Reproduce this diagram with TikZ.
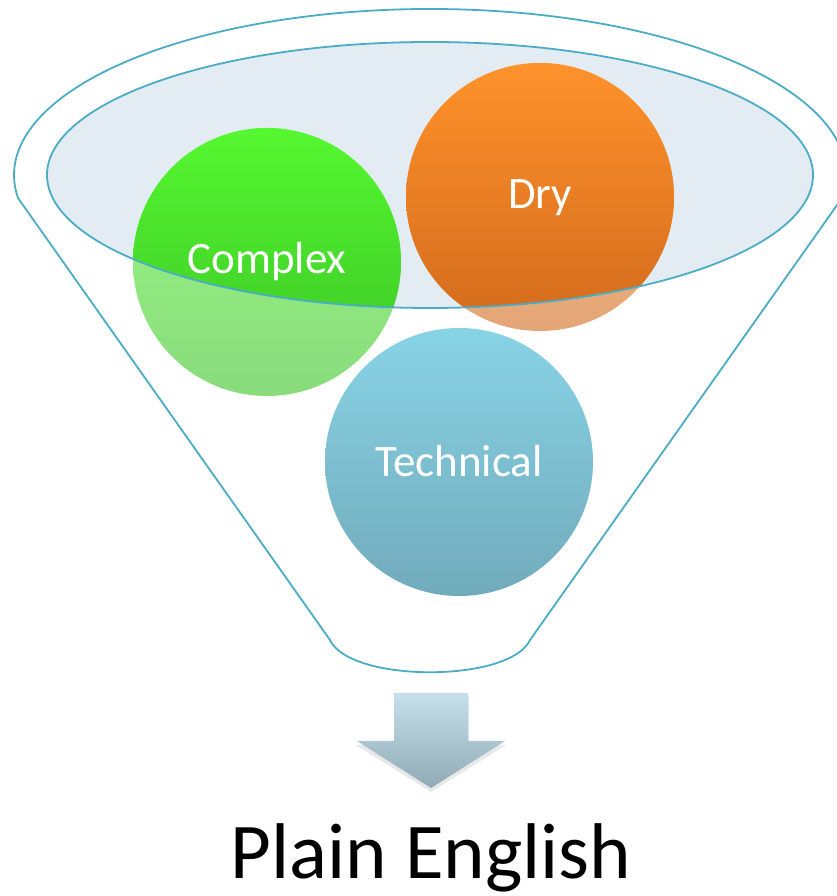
\documentclass[tikz,border=0pt]{standalone}
\usepackage{fontspec}
\setmainfont{Carlito}
\definecolor{fline}{HTML}{4BACC6}
\definecolor{finner}{HTML}{E3ECF3}
\definecolor{gtop}{HTML}{55F830}
\definecolor{gbot}{HTML}{3AC225}
\definecolor{otop}{HTML}{FF922B}
\definecolor{obot}{HTML}{D26A1C}
\definecolor{ttop}{HTML}{88D3E6}
\definecolor{tbot}{HTML}{71ABBB}
\definecolor{atop}{HTML}{C6E0EB}
\definecolor{abot}{HTML}{90ABB6}
\tikzset{
  funnelline/.style={draw=fline, line width=1.8pt},
  balllabel/.style={text=white, font=\fontsize{45}{54}\selectfont, anchor=base, inner sep=0pt},
}
\begin{document}
\begin{tikzpicture}[x=1pt,y=1pt]
\useasboundingbox (0,0) rectangle (836,896);
% funnel outline
\coordinate (fl) at (330,256);
\coordinate (fr) at (530,256);
\draw[funnelline, line join=round]
  (430,721) ++(-8:416 and 166) arc[start angle=-8, end angle=188, x radius=416, y radius=166]
  -- (fl) .. controls (350,213) and (510,213) .. (fr) -- cycle;
% inner ellipse fill
\fill[finner] (430,721) ellipse[x radius=383, y radius=133];
% faded balls
\shade[top color=gtop!60!white, bottom color=gbot!60!white] (267,634) circle[radius=134];
\shade[top color=otop!60!white, bottom color=obot!60!white] (540,699) circle[radius=134];
% opaque parts inside the ellipse
\begin{scope}
  \clip (430,721) ellipse[x radius=383, y radius=133];
  \shade[top color=gtop, bottom color=gbot] (267,634) circle[radius=134];
  \shade[top color=otop, bottom color=obot] (540,699) circle[radius=134];
\end{scope}
% technical ball
\shade[top color=ttop, bottom color=tbot] (459,434) circle[radius=134];
% inner ellipse outline
\draw[funnelline] (430,721) ellipse[x radius=383, y radius=133];
% labels
\node[balllabel] (complex) at (267,622) {Complex};
\node[balllabel] (dry) at (540,687) {Dry};
\node[balllabel] (technical) at (459,419) {Technical};
% arrow
\fill[black!9] (395,200) -- (469,200) -- (469,151) -- (506,151) -- (431,104) -- (356,151) -- (395,151) -- cycle;
\shade[top color=atop, bottom color=abot]
  (394,203) -- (468,203) -- (468,155) -- (505,155) -- (431,108) -- (357,155) -- (394,155) -- cycle;
% result text
\node[anchor=base, inner sep=0pt, font=\fontsize{79}{90}\selectfont] (plain) at (431,17) {Plain English};
\end{tikzpicture}
\end{document}
